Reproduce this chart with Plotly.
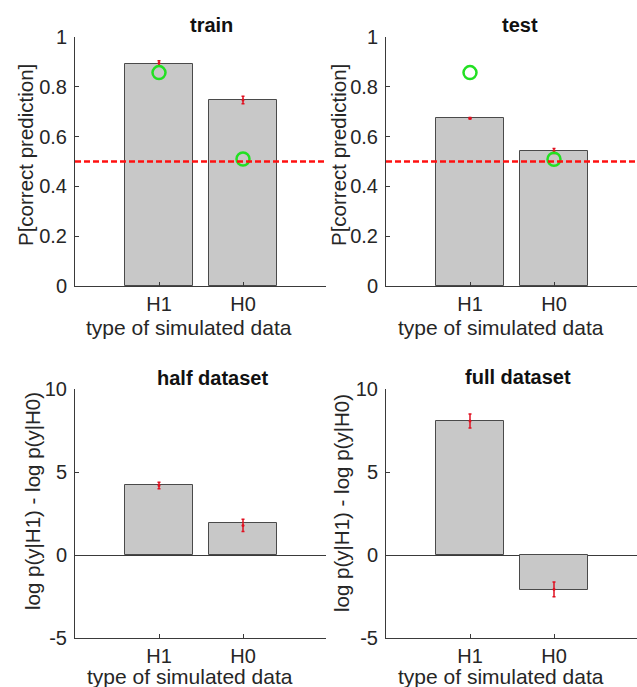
import plotly.graph_objects as go

W, H = 637, 687

categories = ["H1", "H0"]
cat_pos = [1, 2]

# top row: P[correct prediction]
train_bar = [0.89, 0.747]
train_err_center = [0.895, 0.747]
train_err = [0.01, 0.015]
train_green = [0.857, 0.51]

test_bar = [0.674, 0.542]
test_err_center = [0.674, 0.542]
test_err = [0.003, 0.01]
test_green = [0.857, 0.509]

chance_level = 0.5

# bottom row: log-likelihood difference
half_bar = [4.2, 1.9]
half_err_center = [4.19, 1.78]
half_err = [0.2, 0.37]

full_bar = [8.09, -2.1]
full_err_center = [8.07, -2.07]
full_err = [0.42, 0.45]

top_yticks = [0, 0.2, 0.4, 0.6, 0.8, 1]
top_yticklabels = ["0", "0.2", "0.4", "0.6", "0.8", "1"]
bot_yticks = [-5, 0, 5, 10]
bot_yticklabels = ["-5", "0", "5", "10"]

titles = ["train", "test", "half dataset", "full dataset"]
xlabel = "type of simulated data"
ylabel_top = "P[correct prediction]"
ylabel_bot = "log p(y|H1) - log p(y|H0)"

FONT = "Liberation Sans, Arial, sans-serif"
TXT = "#262626"
AX = "#3a3a3a"
BAR_FILL = "#c8c8c8"
BAR_EDGE = "#4a4a4a"

fig = go.Figure()

panels = [
    dict(ax="", bar=train_bar, ec=train_err_center, err=train_err, green=train_green),
    dict(ax="2", bar=test_bar, ec=test_err_center, err=test_err, green=test_green),
    dict(ax="3", bar=half_bar, ec=half_err_center, err=half_err, green=None),
    dict(ax="4", bar=full_bar, ec=full_err_center, err=full_err, green=None),
]

for p in panels:
    xa = "x" + p["ax"]
    ya = "y" + p["ax"]
    fig.add_trace(go.Bar(x=cat_pos, y=p["bar"], width=0.8, xaxis=xa, yaxis=ya,
                         marker=dict(color=BAR_FILL, line=dict(color=BAR_EDGE, width=1)),
                         showlegend=False, hoverinfo="skip"))
    fig.add_trace(go.Scatter(x=cat_pos, y=p["ec"], xaxis=xa, yaxis=ya, mode="markers",
                             marker=dict(color="#e01020", size=3),
                             error_y=dict(type="data", array=p["err"], color="#e01020",
                                          thickness=1.5, width=1.5),
                             showlegend=False, hoverinfo="skip"))
    if p["green"] is not None:
        fig.add_trace(go.Scatter(x=cat_pos, y=p["green"], xaxis=xa, yaxis=ya, mode="markers",
                                 marker=dict(symbol="circle-open", size=13,
                                             color="#22e022", line=dict(width=2.5, color="#22e022")),
                                 showlegend=False, hoverinfo="skip"))

# chance lines on top panels
for xr, yr in [("x domain", "y"), ("x2 domain", "y2")]:
    fig.add_shape(type="line", xref=xr, yref=yr, x0=0, x1=1, y0=chance_level, y1=chance_level,
                  line=dict(color="#ff1010", width=2.5, dash="6px,3px"), layer="above")

def px_x(v):
    return v / W

def px_y(v):
    return 1 - v / H

xdom_l = [px_x(75), px_x(326)]
xdom_r = [px_x(386), 1.0]
xr_l = [0, (326 - 75) / 84]
xr_r = [0, (637 - 386) / 84]
ydom_t = [px_y(286), px_y(37)]
ydom_b = [px_y(638), px_y(389)]

def xaxis(dom, rng, anchor):
    return dict(domain=dom, range=rng, anchor=anchor, tickvals=cat_pos, ticktext=categories,
                showline=True, linecolor=AX, linewidth=1, mirror=False, ticks="inside",
                ticklen=4, tickcolor=AX, showgrid=False, zeroline=False, automargin=False,
                tickfont=dict(family=FONT, size=20, color=TXT), fixedrange=True)

def yaxis(dom, rng, anchor, tv, tt, zl):
    return dict(domain=dom, range=rng, anchor=anchor, tickvals=tv, ticktext=tt,
                showline=True, linecolor=AX, linewidth=1, mirror=False, ticks="inside",
                ticklen=4, tickcolor=AX, showgrid=False, zeroline=zl, zerolinecolor=AX,
                zerolinewidth=1, ticklabelstandoff=3, automargin=False,
                tickfont=dict(family=FONT, size=20, color=TXT), fixedrange=True)

fig.update_layout(
    width=W, height=H, margin=dict(l=0, r=0, t=0, b=0, autoexpand=False),
    paper_bgcolor="white", plot_bgcolor="white",
    font=dict(family=FONT, color=TXT),
    xaxis=xaxis(xdom_l, xr_l, "y"),
    yaxis=yaxis(ydom_t, [0, 1], "x", top_yticks, top_yticklabels, False),
    xaxis2=xaxis(xdom_r, xr_r, "y2"),
    yaxis2=yaxis(ydom_t, [0, 1], "x2", top_yticks, top_yticklabels, False),
    xaxis3=xaxis(xdom_l, xr_l, "y3"),
    yaxis3=yaxis(ydom_b, [-5, 10], "x3", bot_yticks, bot_yticklabels, True),
    xaxis4=xaxis(xdom_r, xr_r, "y4"),
    yaxis4=yaxis(ydom_b, [-5, 10], "x4", bot_yticks, bot_yticklabels, True),
    bargap=0,
)

ann = []
# titles
for t, (cx, cy) in zip(titles, [(211, 25), (520, 25), (212, 378), (518, 377)]):
    ann.append(dict(text="<b>%s</b>" % t, x=px_x(cx), y=px_y(cy), xref="paper", yref="paper",
                    xanchor="center", yanchor="middle", showarrow=False,
                    font=dict(family=FONT, size=20, color="#111111")))
# x labels
for cx, cy in [(189, 327), (501, 327), (190, 676), (501, 676)]:
    ann.append(dict(text=xlabel, x=px_x(cx), y=px_y(cy), xref="paper", yref="paper",
                    xanchor="center", yanchor="middle", showarrow=False,
                    font=dict(family=FONT, size=21, color=TXT)))
# y labels
for txt, (cx, cy) in [(ylabel_top, (25, 155)), (ylabel_top, (338, 155)),
                      (ylabel_bot, (32, 501)), (ylabel_bot, (341, 503))]:
    ann.append(dict(text=txt, x=px_x(cx), y=px_y(cy), xref="paper", yref="paper",
                    xanchor="center", yanchor="middle", showarrow=False, textangle=-90,
                    font=dict(family=FONT, size=20.5, color=TXT)))
fig.update_layout(annotations=ann)

fig.write_html("out.html")
